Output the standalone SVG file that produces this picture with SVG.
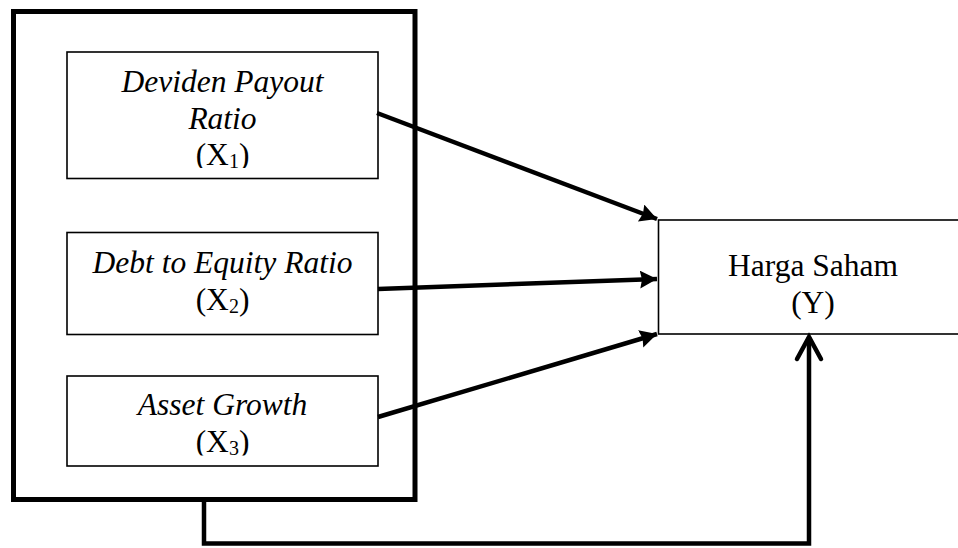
<svg xmlns="http://www.w3.org/2000/svg" width="958" height="548" viewBox="0 0 958 548">
<style>
.t{font-family:"Liberation Serif","Times New Roman",serif;font-size:31.5px;fill:#000;text-anchor:middle}
.i{font-style:italic}
.box{fill:#fff;stroke:#000;stroke-width:1.6}
.conn{fill:none;stroke:#000;stroke-width:4.5}
</style>
<defs>
<marker id="ah" markerUnits="userSpaceOnUse" markerWidth="20" markerHeight="20" refX="17" refY="9" orient="auto">
<path d="M0,0 L17,9 L0,18 L2,9 Z" fill="#000"/>
</marker>
<clipPath id="c1"><rect x="67" y="52" width="311" height="116"/></clipPath>
<clipPath id="c3"><rect x="67" y="376" width="311" height="79.5"/></clipPath>
</defs>
<g id="outer">
<rect x="13.5" y="11.5" width="401.5" height="488" fill="none" stroke="#000" stroke-width="5"/>
</g>
<g id="x1">
<rect class="box" x="67" y="52" width="311" height="126.5"/>
<g clip-path="url(#c1)">
<text class="t i" x="222.5" y="92">Deviden Payout</text>
<text class="t i" x="222.5" y="128.5">Ratio</text>
<text class="t" x="222.5" y="165">(X<tspan font-size="20" dy="3">1</tspan><tspan dy="-3">)</tspan></text>
</g>
</g>
<g id="x2">
<rect class="box" x="67" y="232.5" width="311" height="102"/>
<text class="t i" x="222.5" y="273">Debt to Equity Ratio</text>
<text class="t" x="222.5" y="310">(X<tspan font-size="20" dy="3">2</tspan><tspan dy="-3">)</tspan></text>
</g>
<g id="x3">
<rect class="box" x="67" y="376" width="311" height="90"/>
<g clip-path="url(#c3)">
<text class="t i" x="222.5" y="415">Asset Growth</text>
<text class="t" x="222.5" y="451.5">(X<tspan font-size="20" dy="3">3</tspan><tspan dy="-3">)</tspan></text>
</g>
</g>
<g id="y">
<rect class="box" x="658.5" y="220" width="320" height="114"/>
<text class="t" x="813" y="276">Harga Saham</text>
<text class="t" x="813" y="313">(Y)</text>
</g>
<g id="connectors">
<line class="conn" x1="377" y1="113" x2="657" y2="219" marker-end="url(#ah)"/>
<line class="conn" x1="378" y1="289" x2="657" y2="279" marker-end="url(#ah)"/>
<line class="conn" x1="378" y1="417" x2="657" y2="334" marker-end="url(#ah)"/>
<polyline class="conn" points="204,500 204,543.5 809,543.5 809,337"/>
<polyline class="conn" stroke-linecap="round" stroke-linejoin="miter" points="797,359 809,337 821,359"/>
</g>
</svg>
